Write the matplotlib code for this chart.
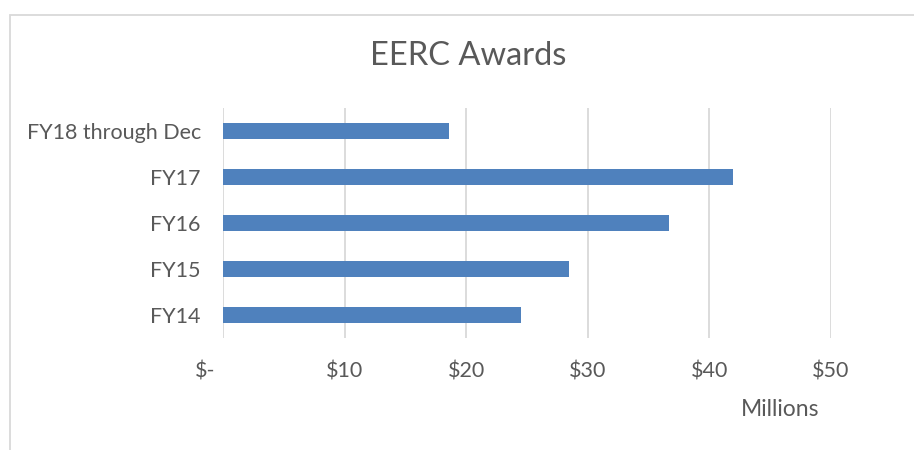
import matplotlib
matplotlib.use('Agg')
import matplotlib.pyplot as plt
from matplotlib.patches import Rectangle
from matplotlib.transforms import ScaledTranslation

# data (millions of dollars)
categories = ['FY14', 'FY15', 'FY16', 'FY17', 'FY18 through Dec']
awards = [24.5, 28.45, 36.7, 41.9, 18.55]
xticks = [0, 10, 20, 30, 40, 50]
xtick_labels = ['$-', '$10', '$20', '$30', '$40', '$50']

text_col = '#595959'
plt.rcParams['font.family'] = ['Lato', 'DejaVu Sans']

fig = plt.figure(figsize=(9.14, 4.5), dpi=100)
ax = fig.add_axes([223 / 914, 1 - 338 / 450, (831 - 223) / 914, (338 - 108) / 450])

ax.barh(range(len(categories)), awards, height=0.35, color='#4f81bd', zorder=3)
ax.set_xlim(0, 50)
ax.set_ylim(-0.5, len(categories) - 0.5)
ax.set_xticks(xticks)
ax.set_xticklabels(xtick_labels, color=text_col, fontsize=15.5)
ax.set_yticks(range(len(categories)))
ax.set_yticklabels(categories, color=text_col, fontsize=15.5)
ax.tick_params(length=0, pad=17, axis='x')
ax.tick_params(length=0, pad=16, axis='y')
ax.grid(axis='x', color='#d9d9d9', linewidth=1.3, zorder=0)
for s in ax.spines.values():
    s.set_visible(False)

# accounting format puts the zero label a bit left of its gridline
lbl0 = ax.get_xticklabels()[0]
lbl0.set_transform(lbl0.get_transform() + ScaledTranslation(-0.18, 0, fig.dpi_scale_trans))

fig.text(780 / 914, 1 - 409 / 450, 'Millions', ha='center', va='center', color=text_col, fontsize=16.5)
fig.text(468 / 914, 1 - 56 / 450, 'EERC Awards', ha='center', va='center', color=text_col, fontsize=23.5)

# outer chart border (cropped at right and bottom in the reference)
fig.patches.append(Rectangle((10 / 914, -0.1), 1.0, 1 - 15 / 450 + 0.1, transform=fig.transFigure,
                             fill=False, edgecolor='#d9d9d9', linewidth=1.3))

plt.savefig('out.png', dpi=100)
